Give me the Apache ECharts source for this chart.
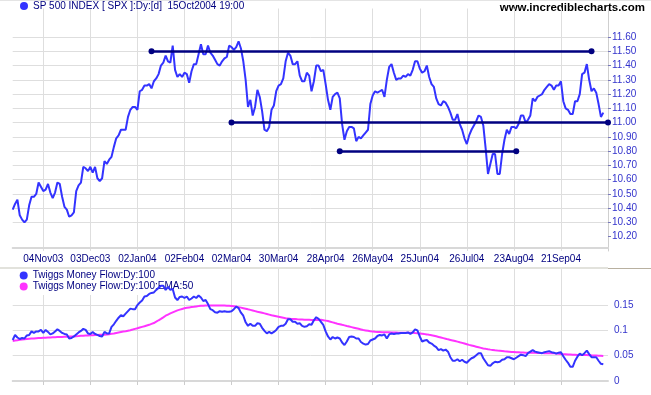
<!DOCTYPE html>
<html>
<head>
<meta charset="utf-8">
<script src="https://cdn.jsdelivr.net/npm/echarts@6/dist/echarts.min.js"></script>
<style>html,body{margin:0;padding:0;background:#fff}#c{width:651px;height:395px}</style>
</head>
<body>
<div id="c"></div>
<script>
// ---------- DATA ----------
const priceName = 'SP 500 INDEX [ SPX ]:Dy:[d]  15Oct2004 19:00';
const mfName = 'Twiggs Money Flow:Dy:100';
const emaName = 'Twiggs Money Flow:Dy:100:EMA:50';
const firstDay = '2003-10-16';
const tradingDays = 254; // incl. two empty trailing slots
const holidays = ['2003-11-27','2003-12-25','2004-01-01','2004-01-19','2004-02-16','2004-04-09','2004-05-31','2004-06-11','2004-07-05','2004-09-06'];
const tickLabels = ['04Nov03','03Dec03','02Jan04','02Feb04','02Mar04','30Mar04','28Apr04','26May04','25Jun04','26Jul04','23Aug04','21Sep04'];
const priceTicks = [10.2,10.3,10.4,10.5,10.6,10.7,10.8,10.9,11.0,11.1,11.2,11.3,11.4,11.5,11.6];
const mfTicks = [0,0.05,0.1,0.15];

const price = [
10.39,10.43,10.46,10.35,10.32,10.30,10.32,10.42,10.48,10.48,
10.50,10.58,10.55,10.52,10.53,10.57,10.51,10.47,10.51,10.58,
10.57,10.48,10.41,10.39,10.34,10.35,10.37,10.52,10.56,10.58,
10.69,10.68,10.66,10.69,10.65,10.69,10.61,10.59,10.61,10.73,
10.71,10.74,10.76,10.83,10.89,10.91,10.95,10.95,10.95,11.04,
11.09,11.11,11.11,11.09,11.22,11.23,11.26,11.26,11.27,11.24,
11.29,11.31,11.34,11.40,11.42,11.47,11.43,11.42,11.54,11.37,
11.32,11.34,11.32,11.35,11.34,11.28,11.36,11.41,11.41,11.48,
11.55,11.48,11.48,11.54,11.49,11.47,11.44,11.41,11.40,11.43,
11.45,11.46,11.54,11.53,11.51,11.53,11.57,11.52,11.43,11.30,
11.11,11.16,11.05,11.11,11.23,11.18,11.08,10.95,10.94,10.97,
11.09,11.12,11.22,11.26,11.27,11.31,11.43,11.49,11.47,11.41,
11.41,11.43,11.33,11.29,11.29,11.35,11.33,11.22,11.29,11.40,
11.40,11.36,11.37,11.27,11.16,11.09,11.18,11.20,11.21,11.17,
10.99,10.88,10.94,10.97,10.97,10.96,10.87,10.90,10.89,10.91,
10.93,10.95,11.13,11.19,11.22,11.21,11.22,11.23,11.18,11.30,
11.39,11.41,11.35,11.30,11.31,11.31,11.33,11.32,11.34,11.33,
11.37,11.43,11.43,11.38,11.35,11.36,11.40,11.32,11.27,11.25,
11.17,11.13,11.12,11.15,11.14,11.11,11.07,11.02,11.02,11.06,
10.99,10.95,10.89,10.85,10.91,10.95,10.98,11.01,11.05,11.04,
10.98,10.82,10.64,10.71,10.78,10.78,10.64,10.64,10.78,10.88,
10.95,10.92,10.97,10.97,10.96,10.99,11.05,11.05,11.00,11.02,
11.05,11.17,11.15,11.18,11.19,11.20,11.23,11.25,11.27,11.26,
11.23,11.26,11.26,11.29,11.15,11.10,11.09,11.06,11.06,11.15,
11.15,11.20,11.34,11.35,11.41,11.30,11.22,11.24,11.21,11.13,
11.04,11.07];

const moneyFlow = [
.081,.091,.086,.083,.085,.084,.090,.091,.098,.095,
.098,.098,.101,.095,.101,.097,.092,.094,.098,.102,
.099,.095,.093,.092,.084,.085,.088,.092,.096,.099,
.103,.101,.094,.093,.097,.093,.091,.089,.088,.097,
.094,.094,.107,.112,.119,.125,.130,.128,.133,.138,
.143,.142,.142,.150,.155,.159,.167,.168,.172,.174,
.175,.180,.184,.188,.188,.180,.186,.180,.182,.165,
.160,.166,.167,.164,.167,.160,.163,.167,.164,.169,
.165,.158,.160,.152,.142,.140,.136,.135,.138,.137,
.138,.137,.137,.138,.142,.147,.144,.135,.129,.116,
.109,.113,.109,.109,.114,.113,.105,.099,.094,.097,
.094,.097,.101,.107,.109,.109,.113,.122,.122,.117,
.117,.113,.114,.109,.107,.108,.112,.111,.120,.126,
.123,.117,.111,.098,.088,.082,.087,.084,.086,.084,
.076,.071,.078,.087,.088,.087,.084,.084,.077,.074,
.072,.073,.080,.082,.084,.089,.091,.090,.092,.084,
.092,.094,.093,.094,.094,.095,.095,.095,.096,.093,
.096,.102,.100,.088,.078,.080,.081,.076,.074,.070,
.067,.061,.063,.060,.062,.058,.047,.040,.040,.043,
.039,.042,.038,.036,.041,.045,.047,.051,.055,.055,
.045,.038,.031,.030,.035,.038,.037,.038,.042,.043,
.047,.047,.045,.043,.046,.049,.052,.051,.049,.055,
.058,.061,.058,.057,.056,.055,.057,.058,.059,.057,
.056,.054,.056,.057,.049,.042,.036,.028,.028,.040,
.048,.054,.051,.055,.060,.053,.047,.047,.047,.040,
.034,.033];

const moneyFlowEma = [
.0790,.0800,.0806,.0813,.0818,.0823,.0828,.0833,.0838,.0842,
.0846,.0849,.0852,.0855,.0857,.0859,.0861,.0863,.0865,.0867,
.0869,.0871,.0873,.0875,.0877,.0878,.0881,.0885,.0888,.0892,
.0895,.0898,.0900,.0903,.0905,.0908,.0910,.0912,.0914,.0916,
.0918,.0925,.0932,.0940,.0950,.0960,.0968,.0976,.0984,.0994,
.1003,.1016,.1030,.1043,.1057,.1070,.1083,.1097,.1110,.1128,
.1145,.1172,.1200,.1227,.1258,.1290,.1313,.1336,.1356,.1376,
.1395,.1410,.1424,.1438,.1446,.1454,.1461,.1467,.1474,.1480,
.1487,.1489,.1492,.1494,.1494,.1494,.1494,.1494,.1493,.1492,
.1490,.1488,.1485,.1482,.1479,.1470,.1460,.1450,.1439,.1428,
.1416,.1405,.1393,.1381,.1369,.1358,.1347,.1336,.1324,.1312,
.1300,.1290,.1280,.1270,.1260,.1250,.1240,.1236,.1231,.1227,
.1224,.1220,.1217,.1215,.1212,.1210,.1208,.1206,.1204,.1205,
.1207,.1210,.1202,.1193,.1184,.1171,.1158,.1145,.1133,.1122,
.1110,.1099,.1087,.1076,.1065,.1054,.1043,.1031,.1019,.1007,
.0999,.0991,.0983,.0979,.0974,.0970,.0968,.0965,.0963,.0962,
.0961,.0960,.0958,.0956,.0954,.0954,.0954,.0954,.0954,.0954,
.0954,.0949,.0945,.0940,.0934,.0927,.0921,.0912,.0904,.0895,
.0883,.0871,.0859,.0847,.0835,.0823,.0812,.0801,.0790,.0778,
.0765,.0753,.0740,.0727,.0714,.0702,.0690,.0678,.0666,.0654,
.0642,.0635,.0627,.0620,.0614,.0607,.0601,.0596,.0591,.0586,
.0582,.0578,.0574,.0572,.0569,.0567,.0564,.0562,.0559,.0559,
.0559,.0559,.0557,.0555,.0553,.0551,.0548,.0546,.0546,.0546,
.0546,.0542,.0537,.0533,.0530,.0527,.0524,.0522,.0520,.0518,
.0516,.0515,.0513,.0512,.0512,.0511,.0508,.0506,.0503,.0500,
.0497,.0494];

// trend lines: [startDate, endDate, level]
const trendLines = [
  ['12Jan04','08Oct04',11.50],
  ['02Mar04','19Oct04',11.00],
  ['06May04','24Aug04',10.80]
];

// ---------- BUILD ----------
const MONTHS = ['Jan','Feb','Mar','Apr','May','Jun','Jul','Aug','Sep','Oct','Nov','Dec'];
function buildDates() {
  const out = [];
  const d = new Date(firstDay + 'T00:00:00Z');
  while (out.length < tradingDays) {
    const iso = d.toISOString().slice(0, 10);
    const wd = d.getUTCDay();
    if (wd !== 0 && wd !== 6 && holidays.indexOf(iso) < 0) {
      const dd = String(d.getUTCDate()).padStart(2, '0');
      const yy = String(d.getUTCFullYear()).slice(2);
      out.push(dd + MONTHS[d.getUTCMonth()] + yy);
    }
    d.setUTCDate(d.getUTCDate() + 1);
  }
  return out;
}
const dates = buildDates();
const isTick = (i, v) => tickLabels.indexOf(v) >= 0;

const FONT = "'Liberation Sans', Arial, sans-serif";
const NAVY = '#000080';
const AXISBLUE = '#3333cc';
const GRID = '#dedede';

const priceSplitColors = [];
for (let k = 0; k <= 17; k++) priceSplitColors.push(k >= 1 && k <= 15 ? GRID : 'rgba(0,0,0,0)');

const chart = echarts.init(document.getElementById('c'), null, {renderer: 'canvas'});
chart.setOption({
  animation: false,
  backgroundColor: '#ffffff',
  textStyle: {fontFamily: FONT},
  grid: [
    {left: 12.7, right: 43, top: 8.5, height: 242.5},
    {left: 12.7, right: 43, top: 269, height: 112}
  ],
  legend: [
    {
      data: [priceName], left: 14, top: 1, padding: [0, 6, 0, 6], orient: 'vertical',
      icon: 'circle', itemWidth: 8, itemHeight: 8, selectedMode: false,
      textStyle: {color: NAVY, fontSize: 10, fontFamily: FONT}
    },
    {
      data: [mfName, emaName], left: 12.7, top: 269, padding: [1, 6, 3, 7], orient: 'vertical',
      icon: 'circle', itemWidth: 8, itemHeight: 8, itemGap: 0, selectedMode: false,
      backgroundColor: '#ffffff', z: 1,
      textStyle: {color: NAVY, fontSize: 10, lineHeight: 11, fontFamily: FONT}
    }
  ],
  xAxis: [
    {
      type: 'category', gridIndex: 0, data: dates, boundaryGap: false, offset: -3,
      axisLine: {show: true, lineStyle: {color: '#d8d8d8', width: 2}},
      axisTick: {show: false},
      axisLabel: {interval: isTick, color: NAVY, fontSize: 10, margin: 6, fontFamily: FONT},
      splitLine: {show: true, interval: isTick, lineStyle: {color: GRID, width: 1}}
    },
    {
      type: 'category', gridIndex: 1, data: dates, boundaryGap: false, offset: 6,
      axisLine: {show: true, lineStyle: {color: '#d8d8d8', width: 2}},
      axisTick: {show: true, interval: isTick, length: 4, lineStyle: {color: '#cccccc'}},
      axisLabel: {show: false},
      splitLine: {show: true, interval: isTick, lineStyle: {color: GRID, width: 1}}
    }
  ],
  yAxis: [
    {
      type: 'value', gridIndex: 0, position: 'right', min: 10.1, max: 11.8, interval: 0.1,
      axisLine: {show: true, lineStyle: {color: '#cfcfcf'}},
      axisTick: {show: true, length: 3, lineStyle: {color: '#7777bb'}, customValues: priceTicks},
      axisLabel: {
        color: AXISBLUE, fontSize: 10, margin: 4, fontFamily: FONT,
        formatter: v => priceTicks.some(t => Math.abs(t - v) < 1e-6) ? v.toFixed(2) : ''
      },
      splitLine: {show: true, lineStyle: {color: priceSplitColors, width: 1}}
    },
    {
      type: 'value', gridIndex: 1, position: 'right', min: 0, max: 0.2213, interval: 0.05,
      axisLine: {show: false},
      axisTick: {show: false},
      axisLabel: {
        color: AXISBLUE, fontSize: 10, margin: 6, fontFamily: FONT,
        formatter: v => mfTicks.some(t => Math.abs(t - v) < 1e-6) ? String(Math.round(v * 100) / 100) : ''
      },
      splitLine: {show: true, lineStyle: {color: ['#9999cc', GRID, GRID, GRID, 'rgba(0,0,0,0)', 'rgba(0,0,0,0)'], width: 1}}
    }
  ],
  series: [
    {
      name: priceName, type: 'line', xAxisIndex: 0, yAxisIndex: 0, data: price,
      showSymbol: false, symbol: 'none', color: '#3333ff', z: 3,
      lineStyle: {color: '#3333ff', width: 2},
      markLine: {
        silent: true, symbol: ['circle', 'circle'], symbolSize: 6,
        label: {show: false},
        lineStyle: {color: NAVY, width: 2.5, type: 'solid'},
        itemStyle: {color: NAVY},
        data: trendLines.map(t => [{coord: [t[0], t[2]]}, {coord: [t[1], t[2]]}])
      }
    },
    {
      name: emaName, type: 'line', xAxisIndex: 1, yAxisIndex: 1, data: moneyFlowEma,
      showSymbol: false, symbol: 'none', color: '#ff33ff', z: 3,
      lineStyle: {color: '#ff33ff', width: 2}
    },
    {
      name: mfName, type: 'line', xAxisIndex: 1, yAxisIndex: 1, data: moneyFlow,
      showSymbol: false, symbol: 'none', color: '#3333ff', z: 3,
      lineStyle: {color: '#3333ff', width: 2}
    }
  ],
  graphic: [
    {type: 'rect', shape: {x: 0, y: 0, width: 651, height: 1}, style: {fill: '#e4e4e4'}, silent: true},
    {type: 'rect', shape: {x: 0, y: 267, width: 608, height: 2}, style: {fill: '#e2e2dc'}, silent: true},
    {type: 'rect', shape: {x: 608, y: 268, width: 43, height: 1}, style: {fill: '#b8b0a0'}, silent: true},
    {
      type: 'text', right: 6, top: 2, silent: true,
      style: {text: 'www.incrediblecharts.com', fill: '#000000', font: "bold 11.5px 'Liberation Sans', Arial, sans-serif"}
    }
  ]
});
</script>
</body>
</html>
